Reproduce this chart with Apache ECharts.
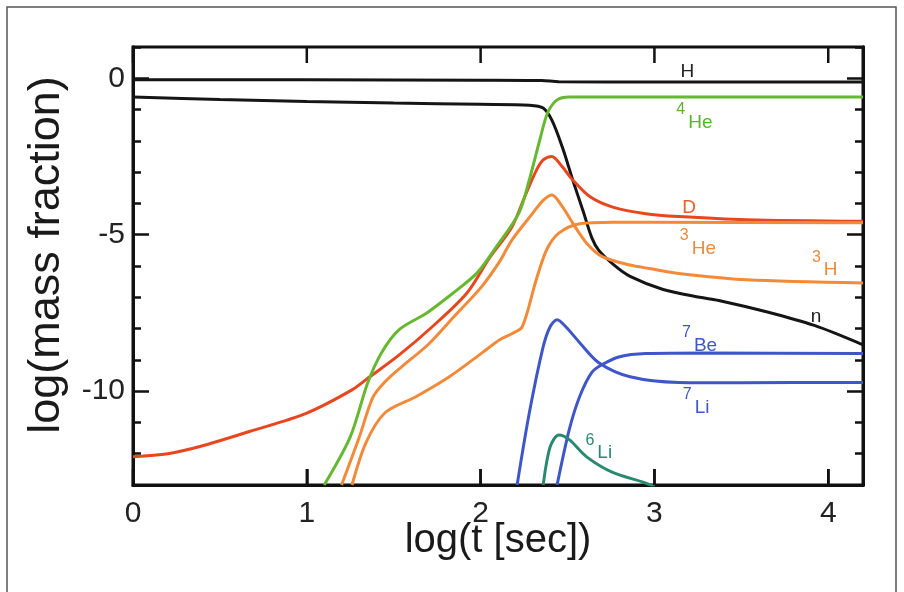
<!DOCTYPE html>
<html>
<head>
<meta charset="utf-8">
<script src="https://cdn.jsdelivr.net/npm/echarts@6/dist/echarts.min.js"></script>
<style>
html,body{margin:0;padding:0;background:#fff;}
#chart{width:904px;height:592px;}
</style>
</head>
<body>
<div id="chart"></div>
<script>
// ---- Data (log t [sec], log mass fraction) ----
const xTicks = [0, 1, 2, 3, 4];
const yMajorTicks = [-10, -5, 0];
const yMinorTicks = [-13, -12, -11, -10, -9, -8, -7, -6, -5, -4, -3, -2, -1, 0, 1];
const yMin = -13, yMax = 1, xMin = 0, xMax = 4.2;

const H = [[0,-0.05],[1,-0.05],[2,-0.06],[2.35,-0.07],[2.45,-0.11],[3,-0.12],[4.2,-0.12]];
const n = [[0,-0.6],[0.5,-0.68],[1,-0.74],[1.5,-0.79],[2,-0.83],[2.28,-0.86],[2.36,-0.95],[2.41,-1.34],[2.47,-2.2],[2.53,-3.25],[2.59,-4.25],[2.64,-5.1],[2.68,-5.5],[2.77,-5.98],[2.86,-6.33],[3.05,-6.75],[3.26,-7.0],[3.37,-7.1],[3.65,-7.47],[3.92,-7.9],[4.2,-8.52]];
const He4 = [[1.10,-13],[1.25,-11.46],[1.35,-9.74],[1.43,-8.77],[1.53,-8.04],[1.69,-7.5],[1.84,-6.87],[1.98,-6.22],[2.09,-5.39],[2.22,-4.31],[2.28,-3.25],[2.34,-1.98],[2.385,-1.11],[2.44,-0.69],[2.51,-0.6],[3,-0.6],[4.2,-0.6]];
const D = [[0,-12.1],[0.2,-12.0],[0.385,-11.77],[0.67,-11.29],[1.0,-10.7],[1.26,-9.96],[1.36,-9.55],[1.53,-8.85],[1.72,-7.95],[1.92,-6.87],[2.05,-5.75],[2.18,-4.75],[2.26,-3.7],[2.32,-2.95],[2.36,-2.61],[2.41,-2.5],[2.47,-2.83],[2.53,-3.25],[2.63,-3.79],[2.76,-4.12],[2.95,-4.33],[3.14,-4.42],[3.53,-4.52],[4.2,-4.57]];
const H3 = [[1.20,-13],[1.30,-11.5],[1.38,-10.2],[1.45,-9.7],[1.55,-9.2],[1.7,-8.5],[1.85,-7.6],[2.0,-6.7],[2.11,-5.85],[2.18,-5.17],[2.30,-4.31],[2.36,-3.9],[2.41,-3.73],[2.47,-4.1],[2.53,-4.63],[2.61,-5.27],[2.70,-5.7],[2.86,-5.97],[2.97,-6.08],[3.14,-6.24],[3.53,-6.44],[4.2,-6.54]];
const He3 = [[1.26,-13],[1.34,-11.65],[1.45,-10.69],[1.63,-10.17],[1.82,-9.54],[2.01,-8.77],[2.11,-8.36],[2.185,-8.15],[2.24,-7.94],[2.32,-6.44],[2.38,-5.48],[2.45,-4.95],[2.57,-4.65],[2.76,-4.6],[2.95,-4.6],[4.2,-4.62]];
const Li7 = [[2.21,-13],[2.28,-10.7],[2.36,-8.58],[2.40,-7.94],[2.44,-7.72],[2.49,-7.94],[2.57,-8.45],[2.68,-9.09],[2.86,-9.54],[3.14,-9.72],[3.5,-9.73],[4.2,-9.72]];
const Be7 = [[2.44,-13],[2.51,-11.23],[2.57,-10.17],[2.64,-9.4],[2.70,-9.15],[2.80,-8.9],[2.95,-8.8],[3.3,-8.78],[4.2,-8.8]];
const Li6 = [[2.36,-13],[2.40,-11.78],[2.45,-11.4],[2.51,-11.55],[2.61,-12.1],[2.76,-12.6],[2.93,-12.9],[3.0,-13.05]];

// label anchor points (data coords)
const labelPos = {
  H: [3.19, 0.4], He4: [3.23, -1.24], D: [3.2, -3.95], He3: [3.25, -5.26],
  H3: [3.98, -5.96], n: [3.93, -7.45], Be7: [3.26, -8.36], Li7: [3.24, -10.35], Li6: [2.68, -11.8]
};

const FONT = "'Liberation Sans', Arial, Helvetica, sans-serif";
const C = {
  black: '#151515', green: '#66b830', red: '#e8461e', orange: '#f28a3a',
  blue: '#3e56c8', teal: '#2a8a70'
};

function lbl(pos, sup, main, color) {
  const rich = {
    s: { fontSize: 16, fontFamily: FONT, color: color, verticalAlign: 'top', lineHeight: 30, padding: [0, 3, 0, 0] },
    m: { fontSize: 19, fontFamily: FONT, color: color, verticalAlign: 'bottom', lineHeight: 30 }
  };
  return {
    symbol: 'circle', symbolSize: 0, silent: true, animation: false,
    itemStyle: { color: 'rgba(0,0,0,0)' },
    data: [{ coord: pos, label: {
      show: true, position: 'inside',
      formatter: sup ? '{s|' + sup + '}{m|' + main + '}' : '{m|' + main + '}',
      rich: rich
    } }]
  };
}

function line(name, data, color, mp) {
  return {
    name: name, type: 'line', data: data, showSymbol: false, symbol: 'none',
    smooth: 0.3, clip: true,
    xAxisIndex: 0, yAxisIndex: 0,
    lineStyle: { color: color, width: 3 },
    markPoint: mp, animation: false
  };
}

const chart = echarts.init(document.getElementById('chart'), null, { renderer: 'canvas' });

const tickStyle = { color: '#111', width: 2.5 };
const axLine = { show: true, onZero: false, lineStyle: { color: '#111', width: 3 } };

chart.setOption({
  backgroundColor: '#ffffff',
  animation: false,
  graphic: [{
    id: 'frame', type: 'rect', shape: { x: 7, y: 7, width: 889, height: 640 },
    style: { fill: 'none', stroke: '#555', lineWidth: 1.5 }, silent: true, z: -1
  }],
  grid: {
    left: 133, right: 41, top: 47, bottom: 107,
    show: true, borderColor: '#111', borderWidth: 3, backgroundColor: 'transparent'
  },
  xAxis: [{
    type: 'value', position: 'bottom', min: xMin, max: xMax,
    axisLine: axLine, splitLine: { show: false },
    axisTick: { show: true, inside: true, length: 16, customValues: xTicks, lineStyle: tickStyle },
    axisLabel: { show: true, customValues: xTicks, fontSize: 30, fontFamily: FONT, color: '#222', margin: 14 },
    name: 'log(t [sec])', nameLocation: 'middle', nameGap: 36, nameMoveOverlap: false,
    nameTextStyle: { fontSize: 40, fontFamily: FONT, color: '#1a1a1a', verticalAlign: 'top' }
  }],
  yAxis: [{
    type: 'value', position: 'left', min: yMin, max: yMax,
    axisLine: axLine, splitLine: { show: false },
    axisTick: { show: true, inside: true, length: 16, customValues: yMajorTicks, lineStyle: tickStyle },
    axisLabel: { show: true, customValues: yMajorTicks, fontSize: 30, fontFamily: FONT, color: '#222', margin: 8 },
    name: 'log(mass fraction)', nameLocation: 'middle', nameGap: 64, nameRotate: 90, nameMoveOverlap: false,
    nameTextStyle: { fontSize: 45, fontFamily: FONT, color: '#1a1a1a', padding: [0, 0, 0, 22] }
  }, {
    type: 'value', position: 'left', min: yMin, max: yMax,
    axisLine: axLine, splitLine: { show: false },
    axisTick: { show: true, inside: true, length: 8, customValues: yMinorTicks, lineStyle: tickStyle },
    axisLabel: { show: false }
  }, {
    type: 'value', position: 'right', min: yMin, max: yMax,
    axisLine: axLine, splitLine: { show: false },
    axisTick: { show: true, inside: true, length: 16, customValues: yMajorTicks, lineStyle: tickStyle },
    axisLabel: { show: false }
  }, {
    type: 'value', position: 'right', min: yMin, max: yMax,
    axisLine: axLine, splitLine: { show: false },
    axisTick: { show: true, inside: true, length: 8, customValues: yMinorTicks, lineStyle: tickStyle },
    axisLabel: { show: false }
  }],
  series: [
    line('H', H, C.black, lbl(labelPos.H, null, 'H', '#222')),
    line('n', n, C.black, lbl(labelPos.n, null, 'n', '#222')),
    line('D', D, C.red, lbl(labelPos.D, null, 'D', '#e8602a')),
    line('3H', H3, C.orange, lbl(labelPos.H3, '3', 'H', '#e98a3f')),
    line('3He', He3, C.orange, lbl(labelPos.He3, '3', 'He', '#e98a3f')),
    line('4He', He4, C.green, lbl(labelPos.He4, '4', 'He', '#5cb32e')),
    line('7Li', Li7, C.blue, lbl(labelPos.Li7, '7', 'Li', C.blue)),
    line('7Be', Be7, C.blue, lbl(labelPos.Be7, '7', 'Be', C.blue)),
    line('6Li', Li6, C.teal, lbl(labelPos.Li6, '6', 'Li', C.teal))
  ]
});

// x-axis inside tick marks (bottom and top) as thin filled rects, placed through the chart's own scales
const TICK_LEN = 16, TICK_W = 2.5;
const tickEls = [];
xTicks.forEach(function (v, i) {
  const pb = chart.convertToPixel({ seriesIndex: 0 }, [v, yMin]);
  const pt = chart.convertToPixel({ seriesIndex: 0 }, [v, yMax]);
  if (!pb || !pt) return;
  tickEls.push({
    id: 'xtb' + i, type: 'rect', silent: true, zlevel: 1, z: 100,
    shape: { x: pb[0] - TICK_W / 2, y: pb[1] - TICK_LEN, width: TICK_W, height: TICK_LEN },
    style: { fill: '#111' }
  });
  tickEls.push({
    id: 'xtt' + i, type: 'rect', silent: true, zlevel: 1, z: 100,
    shape: { x: pt[0] - TICK_W / 2, y: pt[1], width: TICK_W, height: TICK_LEN },
    style: { fill: '#111' }
  });
});
chart.setOption({ graphic: tickEls });
</script>
</body>
</html>
